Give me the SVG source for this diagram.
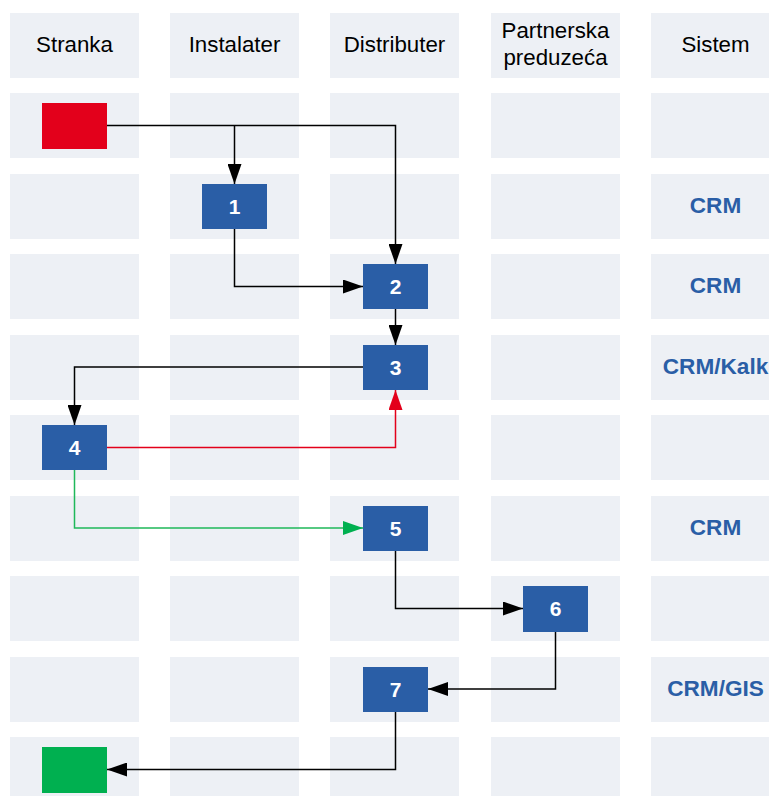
<svg xmlns="http://www.w3.org/2000/svg" width="769" height="796" viewBox="0 0 769 796">
<defs>
<style>
.cell{fill:#EDF0F5}
.hdr{font-family:"Liberation Sans",Arial,sans-serif;font-size:22.3px;fill:#000;text-anchor:middle}
.sys{font-family:"Liberation Sans",Arial,sans-serif;font-size:22.6px;font-weight:bold;fill:#2A5EA6;text-anchor:middle}
.node{fill:#2A5EA6}
.num{font-family:"Liberation Sans",Arial,sans-serif;font-size:21px;font-weight:bold;fill:#fff;text-anchor:middle}
.ln{fill:none;stroke:#000;stroke-width:1.5}
.lr{fill:none;stroke:#E3001B;stroke-width:1.5}
.lg{fill:none;stroke:#1FB85A;stroke-width:1.5}
</style>
<marker id="ab" markerWidth="20" markerHeight="14" refX="20" refY="7" orient="auto" markerUnits="userSpaceOnUse"><path d="M0,0 L20,7 L0,14 Z" fill="#000"/></marker>
<marker id="ar" markerWidth="20" markerHeight="14" refX="20" refY="7" orient="auto" markerUnits="userSpaceOnUse"><path d="M0,0 L20,7 L0,14 Z" fill="#E3001B"/></marker>
<marker id="ag" markerWidth="20" markerHeight="14" refX="20" refY="7" orient="auto" markerUnits="userSpaceOnUse"><path d="M0,0 L20,7 L0,14 Z" fill="#00B050"/></marker>
<g id="cellrow">
<rect class="cell" x="10" y="0" width="129" height="65"/>
<rect class="cell" x="170" y="0" width="129" height="65"/>
<rect class="cell" x="330" y="0" width="129" height="65"/>
<rect class="cell" x="491" y="0" width="129" height="65"/>
<rect class="cell" x="651" y="0" width="129" height="65"/>
</g>
</defs>
<g id="grid">
<use href="#cellrow" y="13"/>
<use href="#cellrow" y="93"/>
<use href="#cellrow" y="174"/>
<use href="#cellrow" y="254"/>
<use href="#cellrow" y="335"/>
<use href="#cellrow" y="415"/>
<use href="#cellrow" y="496"/>
<use href="#cellrow" y="576"/>
<use href="#cellrow" y="657"/>
<use href="#cellrow" y="737"/>
</g>
<g id="headers">
<text class="hdr" x="74.5" y="52">Stranka</text>
<text class="hdr" x="234.5" y="52">Instalater</text>
<text class="hdr" x="394.5" y="52">Distributer</text>
<text class="hdr" x="555.5" y="38">Partnerska</text>
<text class="hdr" x="555.5" y="65">preduzeća</text>
<text class="hdr" x="715.5" y="52">Sistem</text>
</g>
<g id="system">
<text class="sys" x="715.5" y="213">CRM</text>
<text class="sys" x="715.5" y="293">CRM</text>
<text class="sys" x="715.5" y="374">CRM/Kalk</text>
<text class="sys" x="715.5" y="535">CRM</text>
<text class="sys" x="715.5" y="696">CRM/GIS</text>
</g>
<g id="connectors">
<path class="ln" d="M107,125.5 H395.5 V264" marker-end="url(#ab)"/>
<path class="ln" d="M234.5,125.5 V184" marker-end="url(#ab)"/>
<path class="ln" d="M234.5,229 V286.5 H363" marker-end="url(#ab)"/>
<path class="ln" d="M395.5,309 V345" marker-end="url(#ab)"/>
<path class="ln" d="M363,367 H74.5 V425" marker-end="url(#ab)"/>
<path class="lr" d="M107,447.5 H395.5 V390" marker-end="url(#ar)"/>
<path class="lg" d="M74.5,470 V528 H363" marker-end="url(#ag)"/>
<path class="ln" d="M395.5,551 V608.5 H523" marker-end="url(#ab)"/>
<path class="ln" d="M555.5,632 V689 H428" marker-end="url(#ab)"/>
<path class="ln" d="M395.5,712 V769.5 H107" marker-end="url(#ab)"/>
</g>
<g id="start"><rect x="42" y="103" width="65" height="46" fill="#E3001B"/></g>
<g id="n1"><rect class="node" x="202" y="184" width="65" height="45"/><text class="num" x="234.5" y="213.5">1</text></g>
<g id="n2"><rect class="node" x="363" y="264" width="65" height="45"/><text class="num" x="395.5" y="293.5">2</text></g>
<g id="n3"><rect class="node" x="363" y="345" width="65" height="45"/><text class="num" x="395.5" y="374.5">3</text></g>
<g id="n4"><rect class="node" x="42" y="425" width="65" height="45"/><text class="num" x="74.5" y="454.5">4</text></g>
<g id="n5"><rect class="node" x="363" y="506" width="65" height="45"/><text class="num" x="395.5" y="535.5">5</text></g>
<g id="n6"><rect class="node" x="523" y="586" width="65" height="46"/><text class="num" x="555.5" y="616">6</text></g>
<g id="n7"><rect class="node" x="363" y="667" width="65" height="45"/><text class="num" x="395.5" y="696.5">7</text></g>
<g id="end"><rect x="42" y="747" width="65" height="46" fill="#00B050"/></g>
</svg>
